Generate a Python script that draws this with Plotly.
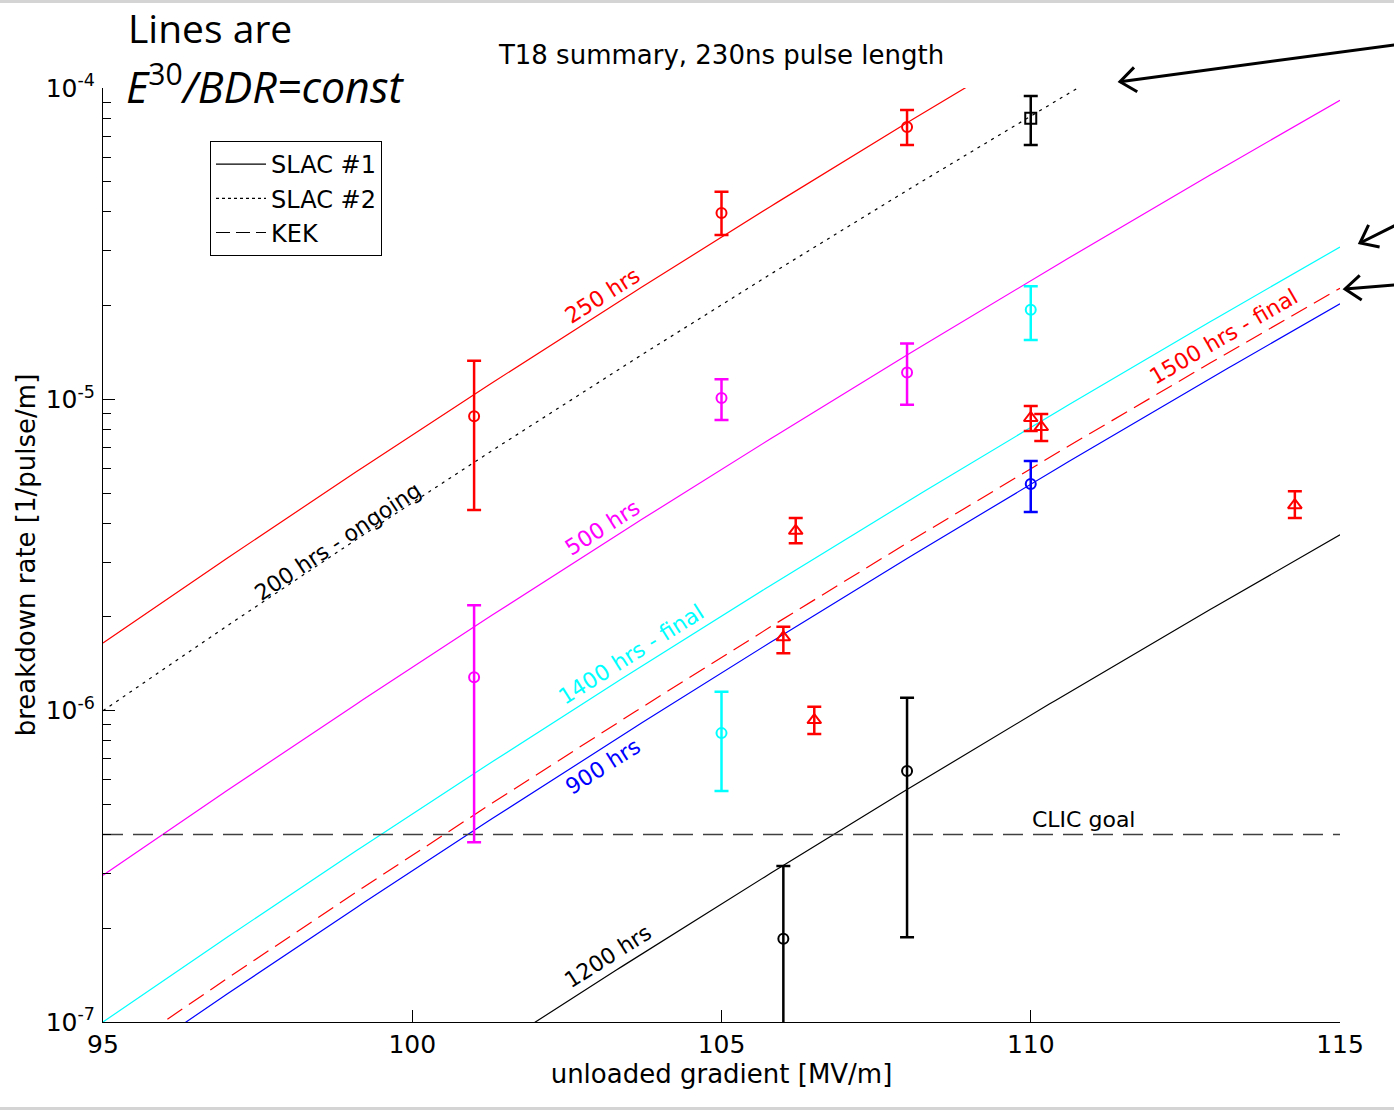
import math
import numpy as np
import plotly.graph_objects as go

# ---------------- data ----------------
# model lines: BDR = C * E^30  (value of BDR at E = 95 MV/m for each line)
exponent = 30
E_ref = 95.0
line_labels = ["250 hrs", "200 hrs - ongoing", "500 hrs", "1400 hrs - final",
               "1500 hrs - final", "900 hrs", "1200 hrs"]
line_bdr_at_ref = [1.65e-6, 1.0e-6, 2.96e-7, 1.0e-7, 7.37e-8, 6.57e-8, 1.19e-8]

clic_goal = 4.0e-7

# measured points (E, BDR, upper, lower)
slac1_red_E = [101, 105, 108]
slac1_red_y = [8.83e-6, 3.97e-5, 7.5e-5]
slac1_red_hi = [1.33e-5, 4.64e-5, 8.5e-5]
slac1_red_lo = [4.41e-6, 3.37e-5, 6.56e-5]

slac2_E = [110]
slac2_y = [8.0e-5]
slac2_hi = [9.43e-5]
slac2_lo = [6.56e-5]

mag_E = [101, 105, 108]
mag_y = [1.28e-6, 1.01e-5, 1.22e-5]
mag_hi = [2.18e-6, 1.16e-5, 1.51e-5]
mag_lo = [3.78e-7, 8.58e-6, 9.6e-6]

cyan_E = [105, 110]
cyan_y = [8.47e-7, 1.94e-5]
cyan_hi = [1.15e-6, 2.31e-5]
cyan_lo = [5.52e-7, 1.55e-5]

blue_E = [110]
blue_y = [5.35e-6]
blue_hi = [6.34e-6]
blue_lo = [4.35e-6]

black_E = [106, 108]
black_y = [1.85e-7, 6.4e-7]
black_hi = [3.17e-7, 1.10e-6]
black_lo = [5.0e-8, 1.87e-7]

kek_E = [106.2, 106.0, 106.5, 110.0, 110.17, 114.27]
kek_y = [3.78e-6, 1.72e-6, 9.33e-7, 8.71e-6, 8.15e-6, 4.57e-6]
kek_hi = [4.16e-6, 1.86e-6, 1.03e-6, 9.52e-6, 8.97e-6, 5.07e-6]
kek_lo = [3.45e-6, 1.53e-6, 8.41e-7, 7.91e-6, 7.35e-6, 4.16e-6]

x_ticks = [95, 100, 105, 110, 115]
y_decades = [-7, -6, -5, -4]

# ---------------- styles / layout ----------------
line_colors = ["#ff0000", "#000000", "#ff00ff", "#00ffff", "#ff0000", "#0000ff", "#000000"]
line_dashes = ["solid", "3px,5px", "solid", "solid", "18px,8px", "solid", "solid"]
# label placement (E, log10 BDR, angle)
label_pos = [(103.08, -4.668, -32.5), (98.8, -5.458, -33.6), (103.08, -5.413, -32.5),
             (103.54, -5.821, -32.3), (113.12, -4.797, -30.1), (103.08, -6.178, -32.5),
             (103.16, -6.788, -32.4)]

W, H = 1394, 1110
ML, MR, MT, MB = 103, 54, 88, 88
PW, PH = W - ML - MR, H - MT - MB


def px2paper(px, py):
    return (px - ML) / PW, 1 - (py - MT) / PH


FONT = "DejaVu Sans"
E_grid = np.linspace(95, 115, 201)

fig = go.Figure()

for i, (lab, c0) in enumerate(zip(line_labels, line_bdr_at_ref)):
    bdr = c0 * (E_grid / E_ref) ** exponent
    fig.add_trace(go.Scatter(x=E_grid, y=bdr, mode="lines", showlegend=False,
                             line=dict(color=line_colors[i], width=1.2, dash=line_dashes[i]),
                             hoverinfo="skip"))

# CLIC goal
fig.add_trace(go.Scatter(x=[95, 115], y=[clic_goal, clic_goal], mode="lines", showlegend=False,
                         line=dict(color="#404040", width=1.5, dash="20px,10px")))


def err_trace(E, y, hi, lo, color, symbol, size):
    return go.Scatter(
        x=E, y=y, mode="markers", showlegend=False,
        marker=dict(symbol=symbol, size=size, color=color, line=dict(color=color, width=2)),
        error_y=dict(type="data", symmetric=False,
                     array=[h - v for h, v in zip(hi, y)],
                     arrayminus=[v - l for v, l in zip(y, lo)],
                     color=color, thickness=2.5, width=7))


fig.add_trace(err_trace(slac1_red_E, slac1_red_y, slac1_red_hi, slac1_red_lo, "#ff0000", "circle-open", 10))
fig.add_trace(err_trace(slac2_E, slac2_y, slac2_hi, slac2_lo, "#000000", "square-open", 11))
fig.add_trace(err_trace(mag_E, mag_y, mag_hi, mag_lo, "#ff00ff", "circle-open", 10))
fig.add_trace(err_trace(cyan_E, cyan_y, cyan_hi, cyan_lo, "#00ffff", "circle-open", 10))
fig.add_trace(err_trace(blue_E, blue_y, blue_hi, blue_lo, "#0000ff", "circle-open", 10))
fig.add_trace(err_trace(black_E, black_y, black_hi, black_lo, "#000000", "circle-open", 10))
fig.add_trace(err_trace(kek_E, kek_y, kek_hi, kek_lo, "#ff0000", "triangle-up-open", 12))

# legend entries (line style = structure)
for name, dash in [("SLAC #1", "solid"), ("SLAC #2", "3px,3px"), ("KEK", "14px,6px")]:
    fig.add_trace(go.Scatter(x=[None], y=[None], mode="lines", name=name,
                             line=dict(color="black", width=1.2, dash=dash)))

annotations = []
for i, lab in enumerate(line_labels):
    ex, ly, ang = label_pos[i]
    annotations.append(dict(x=ex, y=ly, xref="x", yref="y", text=lab, showarrow=False,
                            textangle=ang, font=dict(family=FONT, size=22, color=line_colors[i])))

annotations.append(dict(x=110.86, y=-6.351, xref="x", yref="y", text="CLIC goal", showarrow=False,
                        font=dict(family=FONT, size=22, color="black")))

# big header text
hx, hy = px2paper(126, 28)
annotations.append(dict(x=hx, y=hy, xref="paper", yref="paper",
                        xanchor="left", yanchor="middle", text="Lines are", showarrow=False,
                        font=dict(family="Open Sans", size=39, color="black")))
hx, hy = px2paper(124, 85)
annotations.append(dict(x=hx, y=hy, xref="paper", yref="paper",
                        xanchor="left", yanchor="middle",
                        text="<i>E</i><sup>30</sup><i>/BDR=const</i>", showarrow=False,
                        font=dict(family="Open Sans", size=43, color="black")))

shapes = []
# arrows pointing in from the right (head px, tail px)
arrows_px = [((1120, 81.7), (1420, 41.5)), ((1360, 243), (1420, 213)), ((1345, 289), (1420, 283))]
for (hxp, hyp), (txp, typ) in arrows_px:
    x0, y0 = px2paper(txp, typ)
    x1, y1 = px2paper(hxp, hyp)
    shapes.append(dict(type="line", xref="paper", yref="paper", x0=x0, y0=y0, x1=x1, y1=y1,
                       line=dict(color="black", width=3)))
    dx, dy = txp - hxp, typ - hyp
    n = math.hypot(dx, dy)
    ux, uy = dx / n, dy / n
    pts = []
    for sgn in (1, -1):
        a = math.radians(38) * sgn
        rx = ux * math.cos(a) - uy * math.sin(a)
        ry = ux * math.sin(a) + uy * math.cos(a)
        pts.append(px2paper(hxp + 20 * rx, hyp + 20 * ry))
    path = "M{},{} L{},{} L{},{}".format(pts[0][0], pts[0][1], x1, y1, pts[1][0], pts[1][1])
    shapes.append(dict(type="path", xref="paper", yref="paper", path=path,
                       line=dict(color="black", width=3)))

# grey slide strips at top and bottom
x0, ytop0 = px2paper(-5, -5)
x1, ytop1 = px2paper(W + 5, 3)
_, ybot0 = px2paper(0, 1107)
_, ybot1 = px2paper(0, 1115)
shapes.append(dict(type="rect", xref="paper", yref="paper", x0=x0, x1=x1, y0=ytop1, y1=ytop0,
                   fillcolor="#d4d4d4", line=dict(width=0), layer="above"))
shapes.append(dict(type="rect", xref="paper", yref="paper", x0=x0, x1=x1, y0=ybot1, y1=ybot0,
                   fillcolor="#d4d4d4", line=dict(width=0), layer="above"))

y_major = [10.0 ** d for d in y_decades]
y_major_text = [f"10<sup>{d}</sup>" for d in y_decades]
y_minor = [m * 10.0 ** d for d in y_decades[:-1] for m in range(2, 10)]

fig.update_layout(
    width=W, height=H,
    margin=dict(l=ML, r=MR, t=MT, b=MB),
    paper_bgcolor="white", plot_bgcolor="white",
    font=dict(family=FONT, size=24, color="black"),
    title=dict(text="T18 summary, 230ns pulse length", x=0.5, xref="paper", xanchor="center",
               y=1 - 55 / H, yref="container", yanchor="middle",
               font=dict(family=FONT, size=26, color="black")),
    xaxis=dict(range=[95, 115], tickvals=x_ticks, ticks="inside", ticklen=12, tickwidth=1,
               tickcolor="black", showline=True, linecolor="black", linewidth=1.2,
               showgrid=False, zeroline=False, mirror=False,
               tickfont=dict(family=FONT, size=25),
               title=dict(text="unloaded gradient [MV/m]", standoff=6,
                          font=dict(family=FONT, size=26))),
    yaxis=dict(type="log", range=[-7, -4], tickmode="array", tickvals=y_major,
               ticktext=y_major_text,
               ticks="inside", ticklen=12, tickwidth=1, tickcolor="black",
               minor=dict(tickmode="array", tickvals=y_minor, ticks="inside", ticklen=8,
                          tickwidth=1, tickcolor="black", showgrid=False),
               showline=True, linecolor="black", linewidth=1.2, showgrid=False,
               zeroline=False, mirror=False, ticklabelstandoff=2,
               tickfont=dict(family=FONT, size=25),
               title=dict(text="breakdown rate [1/pulse/m]", standoff=2,
                          font=dict(family=FONT, size=26))),
    legend=dict(x=(210 - ML) / PW, y=1 - (141 - MT) / PH, xanchor="left", yanchor="top",
                bordercolor="black", borderwidth=1, bgcolor="white",
                font=dict(family=FONT, size=24), tracegroupgap=0, itemwidth=50),
    annotations=annotations,
    shapes=shapes,
)

fig.write_html("out.html")
